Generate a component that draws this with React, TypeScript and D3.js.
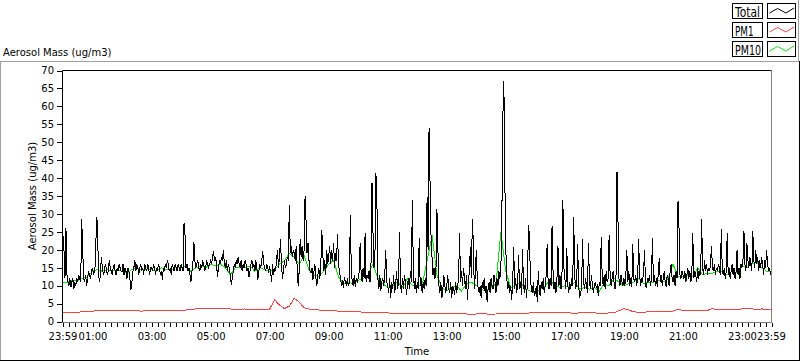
import React from "react";
import * as d3 from "d3";

const seriesNames = ["Total", "PM1", "PM10"];
const seriesColors = ["#000000", "#ff4040", "#00ee00"];
const yTickValues = [0, 5, 10, 15, 20, 25, 30, 35, 40, 45, 50, 55, 60, 65, 70];
const xTickLabels = ["23:59", "01:00", "03:00", "05:00", "07:00", "09:00", "11:00", "13:00", "15:00", "17:00", "19:00", "21:00", "23:00", "23:59"];

// Total, one value every 2 minutes from 23:59 (30 per hour)
const totalValues = [
  24, 20, 12, 26, 13, 11, 10, 12, 9.5, 11, 12, 9, 11, 10, 12, 11, 13, 12, 11, 28.5, 20, 12, 11, 13, 10, 12, 14, 13, 12, 14,
  15, 13, 14, 16, 29, 27.7, 14, 11, 13, 18, 15, 13, 14, 16, 15, 13, 14, 17, 15, 14, 13, 15, 16, 14, 13, 15, 14, 16, 15, 14,
  14, 16, 13, 15, 14, 12, 15, 14, 12, 8.7, 11, 14, 15, 17, 14, 16, 15, 13, 15, 16, 14, 15, 13, 16, 15, 14, 16, 15, 13, 15,
  15, 14, 16, 15, 13, 15, 14, 16, 15, 13, 14, 11.7, 15, 14, 16, 15, 17, 16, 14, 15, 13, 16, 15, 14, 16, 15, 14, 16, 15, 14,
  16, 15, 14, 27.4, 24, 15, 16, 14, 15, 13, 11, 14, 16, 22.2, 17, 15, 16, 17, 15, 14, 16, 15, 17, 16, 14, 15, 17, 16, 15, 16,
  17, 16, 18, 19.6, 17, 18, 16, 12.5, 15, 17, 16, 18, 17, 20, 16, 15, 17, 14, 16, 15, 13, 10.3, 12, 14, 16, 15, 17, 16, 18, 16,
  15, 17, 14, 16, 15, 17, 16, 14, 15, 12.5, 14, 16, 17, 15, 16, 14, 17, 15, 11.7, 14, 16, 15, 17, 19.6, 16, 15, 14, 16, 15, 14,
  15, 14, 11, 16, 13, 15, 14, 17, 20, 15, 18, 22.9, 16, 12, 14, 17, 15, 16, 18, 17, 32.4, 19, 21, 18, 20, 19, 17, 21, 15, 9.9,
  14, 23, 18, 21, 17, 20, 35, 28, 19, 22, 17, 14, 13.6, 15, 11.7, 14, 16, 12, 10, 13, 15, 12, 16, 25.4, 19, 14, 17, 13, 20, 16,
  18, 21, 16, 20, 17, 22, 15, 19, 17, 24.3, 16, 14, 12, 10, 11.5, 9.4, 12.5, 11, 10, 12, 9.8, 11, 29.7, 14, 11, 10, 13, 9.6, 12, 11,
  12, 14, 22, 13, 11, 15, 12, 24.6, 11, 13, 12, 14, 11, 16, 38.7, 25, 15, 18, 41.3, 34, 12, 9, 13, 8.6, 11, 12, 10, 13, 20, 11,
  10, 8, 12, 6.5, 11, 9, 13, 8, 10, 14, 9, 11, 25, 10, 8, 12, 9, 13, 11, 7.5, 10, 12, 9, 14, 11, 34, 15, 9, 12, 8,
  11, 9, 23.4, 10, 12, 8, 11, 9, 12, 10, 34.6, 20, 54, 39, 24, 18, 13, 15, 12, 14, 31.3, 20, 10, 8, 11, 6.5, 9, 13, 10, 8,
  10, 13, 9, 8, 11, 6.5, 10, 9, 7.5, 11, 8, 10, 12, 24.6, 11, 14, 10, 15, 12, 9, 13, 6, 11, 14, 20.8, 12, 28.5, 22, 9, 13,
  20, 12, 9, 8, 10, 6.5, 11, 9, 12, 8, 10, 5.5, 9, 11, 8, 12, 10, 9, 13, 11, 8, 12, 10, 14, 12, 15, 30, 57.3, 67, 39.7,
  20, 12, 9, 11, 8, 10, 6, 11, 20.8, 9, 12, 8, 10, 18.6, 9, 11, 7.5, 20.3, 10, 8, 12, 6.5, 11, 26.9, 24, 12, 9, 8, 11, 7,
  8, 10, 5.5, 14, 9, 7, 11, 9, 12, 8, 10, 13, 21.6, 11, 9, 12, 10, 26.5, 14, 9, 11, 8, 12, 21, 10, 13, 9, 11, 33.8, 15,
  12, 9, 20.5, 10, 8, 11, 9, 12, 10, 29.1, 13, 9, 11, 21.5, 10, 6.5, 8, 9, 23, 11, 9, 12, 10, 8, 22, 11, 9, 13, 10, 8,
  10, 11, 9.5, 10, 7, 11, 10, 23.7, 12, 10, 13, 9, 14, 11, 12, 24, 13, 10, 12, 14, 11, 9, 13, 41.8, 28, 12, 10, 13, 11, 10,
  12, 10, 13, 20, 11, 14, 10, 12, 9.5, 21.6, 12, 11, 13, 10, 12, 23, 13, 10, 12, 11, 14, 20, 10, 9.5, 12, 11, 13, 10, 12, 23.4,
  11, 13, 10, 12, 9.5, 14, 17.6, 11, 13, 10, 12, 14, 11, 9.5, 13, 12, 10, 14, 16, 12, 11, 13, 10, 14, 12, 33.5, 26, 13, 12, 14,
  13, 12, 14, 11, 13, 15, 12, 14, 11, 13, 24.6, 12, 14, 13, 11, 15, 12, 14, 13, 28.5, 15, 13, 17, 14, 16, 13, 15, 14, 16, 21,
  15, 14, 16, 13, 15, 14, 16, 15, 13, 25.7, 14, 13, 15, 12, 14, 24.6, 13, 15, 12, 14, 16, 13, 15, 12, 14, 20, 13, 15, 12, 16,
  15, 17, 25.3, 16, 14, 22, 17, 15, 18, 16, 14, 25.3, 17, 15, 20, 16, 18, 14, 17, 15, 18, 16, 13, 17, 15, 20, 16, 14, 15, 13,
  14,
];

// PM10, one value every 10 minutes (6 per hour)
const pm10Values = [
  11, 11, 11.5, 11.5, 12, 12.5,
  14, 14.5, 14, 14.5, 14, 14.5,
  14, 13.5, 14.5, 15, 14.5, 14.5,
  14.5, 14, 15, 14.5, 14.5, 15,
  15, 15.5, 14, 15, 15.5, 15,
  16, 15.5, 16, 15, 13, 15,
  15, 15, 15.5, 14, 15, 14.5,
  14, 14.5, 16, 17, 19, 18,
  16, 18.5, 14.5, 13, 12.5, 14,
  16, 17, 12.5, 10.5, 11, 10.5,
  11.5, 12, 13, 16, 12, 10.5,
  9.5, 10, 11, 9.5, 12, 10,
  10, 10, 17, 24, 13, 9.5,
  8.5, 9.5, 10, 8.5, 10.5, 11,
  10, 9, 8.5, 9.5, 10.5, 25,
  14, 9.5, 10, 11, 9, 8.5,
  8, 9, 10, 11.5, 10, 9.5,
  10, 9.5, 11, 9, 9.5, 9,
  9.5, 8.5, 10.5, 10, 12, 11,
  10, 10.5, 11, 12, 10.5, 11,
  11, 11.5, 11, 12, 16, 12.5,
  12.5, 13, 12.5, 15, 13, 13.5,
  13.5, 14, 14, 13, 14, 13.5,
  15.5, 15, 16, 16.5, 15, 14,
  14,
];

// PM1, one value every 10 minutes (6 per hour)
const pm1Values = [
  2.6, 2.5, 2.6, 2.6, 2.7, 2.8,
  2.9, 3.0, 3.1, 3.0, 3.1, 3.1,
  3.1, 3.0, 3.1, 3.0, 2.9, 3.0,
  3.0, 3.1, 3.0, 3.1, 3.1, 3.2,
  3.1, 3.2, 3.3, 3.5, 3.6, 3.6,
  3.7, 3.6, 3.6, 3.5, 3.5, 3.4,
  3.4, 3.5, 3.3, 3.3, 3.2, 3.4,
  3.4, 6.1, 4.6, 3.6, 4.3, 6.5,
  5.4, 3.8, 3.5, 3.3, 3.2, 3.1,
  3.1, 3.0, 2.9, 2.7, 2.7, 2.7,
  2.7, 2.6, 2.6, 2.6, 2.6, 2.5,
  2.4, 2.3, 2.2, 2.1, 2.2, 2.1,
  2.1, 2.1, 2.1, 2.1, 2.1, 2.1,
  2.1, 2.1, 2.2, 2.1, 2.1, 2.0,
  2.1, 2.1, 2.1, 2.0, 2.1, 2.1,
  2.1, 2.1, 2.2, 2.2, 2.3, 2.4,
  2.4, 2.4, 2.5, 2.5, 2.6, 2.6,
  2.4, 2.4, 2.3, 2.4, 2.4, 2.4,
  2.4, 2.3, 2.3, 2.4, 2.4, 3.0,
  3.6, 3.2, 2.7, 2.6, 2.6, 2.7,
  2.7, 2.7, 2.7, 2.8, 2.9, 3.4,
  3.1, 3.0, 3.0, 3.1, 3.0, 3.1,
  3.6, 3.3, 3.3, 3.3, 3.4, 3.4,
  3.5, 3.5, 3.5, 3.4, 3.5, 3.4,
  3.4,
];

const FONT = "DejaVu Sans";

export default function App() {
  const W = 800;
  const H = 361;
  const left = 62.5;
  const right = 771.5;
  const top = 70.5;
  const bottom = 322.5;

  const t0 = new Date(2020, 0, 1, 23, 59);
  const t1 = new Date(2020, 0, 2, 23, 59);
  const x = d3.scaleTime().domain([t0, t1]).range([63, 771.5]);
  const y = d3.scaleLinear().domain([0, 70]).range([321.5, 70.5]);

  type P = { t: Date; v: number };
  const toPts = (vals: number[], stepMin: number): P[] =>
    vals.map((v, i) => ({ t: d3.timeMinute.offset(t0, i * stepMin), v }));
  const line = d3
    .line<P>()
    .x((d) => x(d.t))
    .y((d) => y(d.v));

  const totalPath = line(toPts(totalValues, 2)) || "";
  const pm10Path = line(toPts(pm10Values, 10)) || "";
  const pm1Path = line(toPts(pm1Values, 10)) || "";

  const minorTicks = [t0, ...(d3.timeMinute.every(12) as any).range(t0, t1), t1];
  const labelDates = xTickLabels.map((lab, i) => {
    if (i === 0) return t0;
    if (i === xTickLabels.length - 1) return t1;
    const [hh, mm] = lab.split(":").map(Number);
    return new Date(2020, 0, 2, hh, mm);
  });

  const legendTextWidths = [25, 18.5, 26];
  const swatchOffsets: [number, number][] = [
    [2, 9.5],
    [10, 5],
    [18.5, 9.5],
    [26.5, 4.5],
  ];

  return (
    <svg
      width={W}
      height={H}
      style={{ position: "absolute", left: 0, top: 0, background: "#fff" }}
      fontFamily={FONT}
    >
      <rect x={0} y={0} width={W} height={H} fill="#ffffff" />

      {/* outer panel frame */}
      <line x1={0} x2={799} y1={61.5} y2={61.5} stroke="#a0a0a0" />
      <line x1={0.5} x2={0.5} y1={61} y2={361} stroke="#a0a0a0" />
      <line x1={799.5} x2={799.5} y1={61} y2={361} stroke="#000" />
      <line x1={0} x2={800} y1={360.5} y2={360.5} stroke="#000" />
      <line x1={798.5} x2={798.5} y1={0} y2={61} stroke="#a0a0a0" />

      {/* top-left caption */}
      <text x={3} y={56} fontSize={10} fill="#000">
        Aerosol Mass (ug/m3)
      </text>

      {/* legend */}
      {seriesNames.map((name, i) => {
        const by = 3.5 + i * 19;
        const pts = swatchOffsets.map(([dx, dy]) => [767.5 + dx, by + dy] as [number, number]);
        return (
          <g key={name}>
            <rect x={732.5} y={by} width={30} height={15} fill="#fff" stroke="#000" />
            <text
              x={735}
              y={by + 13}
              fontSize={14}
              textLength={legendTextWidths[i]}
              lengthAdjust="spacingAndGlyphs"
              fill="#000"
            >
              {name}
            </text>
            <rect x={767.5} y={by} width={28} height={15} fill="#fff" stroke="#000" />
            <path d={d3.line()(pts) || ""} fill="none" stroke={seriesColors[i]} strokeWidth={1} />
          </g>
        );
      })}

      {/* plot area */}
      <defs>
        <clipPath id="plotClip">
          <rect x={left} y={top} width={right - left} height={bottom - top} />
        </clipPath>
      </defs>
      <g clipPath="url(#plotClip)" shapeRendering="crispEdges">
        <path d={pm10Path} fill="none" stroke={seriesColors[2]} strokeWidth={1} />
        <path d={pm1Path} fill="none" stroke={seriesColors[1]} strokeWidth={1} />
        <path d={totalPath} fill="none" stroke={seriesColors[0]} strokeWidth={1} />
      </g>
      <line x1={left} x2={right} y1={top} y2={top} stroke="#000" />
      <line x1={left} x2={left} y1={top} y2={bottom} stroke="#000" />
      <line x1={left} x2={right + 0.5} y1={bottom} y2={bottom} stroke="#808080" />
      <line x1={right} x2={right} y1={top} y2={bottom} stroke="#808080" />

      {/* y axis */}
      {yTickValues.map((v) => (
        <g key={v}>
          <line x1={57} x2={62} y1={Math.round(y(v)) + 0.5} y2={Math.round(y(v)) + 0.5} stroke="#000" />
          <text x={54} y={y(v) + 3.8} fontSize={10} textAnchor="end" fill="#000">
            {v}
          </text>
        </g>
      ))}
      <text transform="translate(36,196) rotate(-90)" fontSize={10} textAnchor="middle" fill="#000">
        Aerosol Mass (ug/m3)
      </text>

      {/* x axis */}
      {minorTicks.map((t, i) => (
        <line
          key={i}
          x1={Math.round(x(t)) + 0.5}
          x2={Math.round(x(t)) + 0.5}
          y1={323}
          y2={327}
          stroke="#000"
        />
      ))}
      {xTickLabels.map((lab, i) => (
        <text key={i} x={x(labelDates[i])} y={339.5} fontSize={10} textAnchor="middle" fill="#000">
          {lab}
        </text>
      ))}
      <text x={417} y={355} fontSize={10} textAnchor="middle" fill="#000">
        Time
      </text>
    </svg>
  );
}
